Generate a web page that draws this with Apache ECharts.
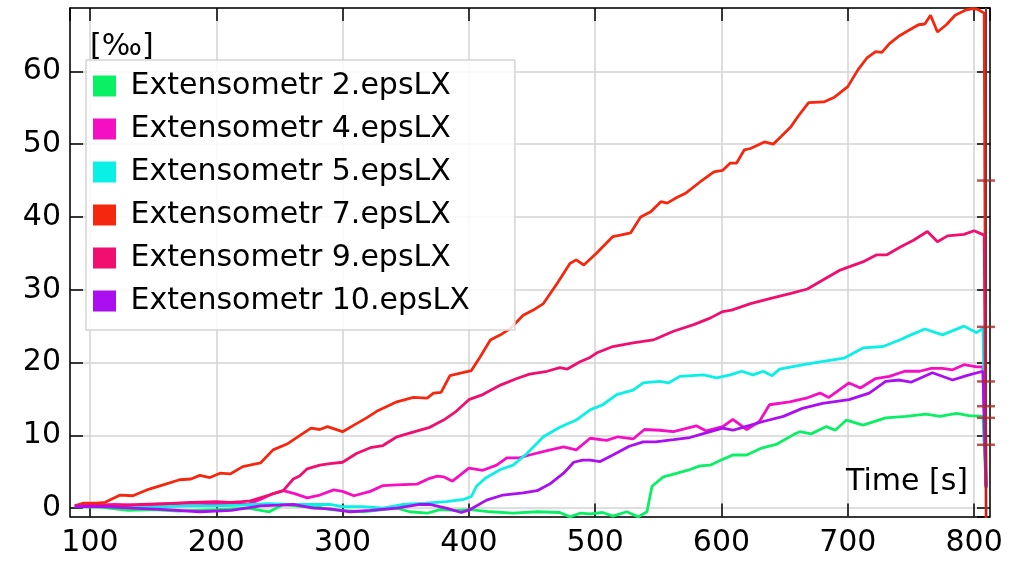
<!DOCTYPE html>
<html>
<head>
<meta charset="utf-8">
<script src="https://cdn.jsdelivr.net/npm/echarts@6/dist/echarts.min.js"></script>
<style>
  html, body { margin: 0; padding: 0; background: #fff; }
  #chart { width: 1026px; height: 561px; }
</style>
</head>
<body>
<div id="chart"></div>
<script>
  // legend names / colours
  var names = ['Extensometr 2.epsLX', 'Extensometr 4.epsLX', 'Extensometr 5.epsLX',
    'Extensometr 7.epsLX', 'Extensometr 9.epsLX', 'Extensometr 10.epsLX'];
  var colors = ['#0af064', '#f50fc3', '#0af0e6', '#f5280f', '#f00f6e', '#aa0fef'];

  // [time s, value ‰]
  var ext2 = [[88,0.2],[110,0.1],[130,-0.3],[150,-0.2],[170,-0.4],[200,-0.2],[225,0.0],[242,-0.5],[253,0.5],[269,0.2],[282,0.1],[290,-0.2],[316,-0.5],[343,0.0],[353,-0.5],[367,-0.7],[377,-0.2],[390,-0.3],[401,-0.2],[417,-0.5],[435,-0.7],[454,-0.5],[472,-0.6],[480,-1.2],[488,-0.7],[496,-0.8],[506,-0.6],[514,-1.1],[525,-0.5],[534,-1.2],[541,-0.5],[545,3.0],[554,4.3],[565,4.8],[575,5.3],[583,5.8],[591,5.9],[601,6.7],[609,7.3],[620,7.3],[631,8.2],[644,8.8],[657,10.1],[662,10.5],[671,10.2],[683,11.2],[690,10.7],[699,12.1],[712,11.4],[730,12.4],[746,12.6],[762,12.9],[773,12.6],[786,13.0],[796,12.7],[807,12.6],[809.5,2.8]];
  var ext4 = [[88,0.3],[100,0.4],[120,0.5],[140,0.4],[160,0.6],[180,0.7],[200,0.6],[215,0.7],[225,0.5],[235,1.2],[245,2.0],[253,2.4],[262,2.0],[272,1.4],[282,1.8],[293,2.5],[300,2.3],[309,1.7],[322,2.3],[332,3.1],[343,3.2],[359,3.3],[369,4.1],[375,4.4],[380,4.3],[387,3.7],[400,5.5],[411,5.2],[422,5.9],[430,6.9],[440,6.9],[448,7.3],[462,7.9],[475,8.4],[485,8.0],[496,9.6],[509,9.3],[518,9.8],[530,9.5],[539,10.8],[551,10.7],[562,10.5],[580,11.3],[588,10.6],[601,11.2],[609,12.2],[620,10.8],[630,11.9],[638,14.2],[654,14.6],[667,15.1],[678,15.8],[685,15.2],[701,17.2],[710,16.5],[722,17.8],[733,18.1],[745,18.8],[757,18.8],[766,19.2],[775,19.2],[783,19.0],[792,19.7],[802,19.4],[807,19.4],[809.5,3.0]];
  var ext5 = [[88,0.4],[100,0.3],[120,0.2],[140,0.1],[160,0.2],[180,0.3],[200,0.3],[220,0.4],[240,0.6],[260,0.5],[280,0.5],[290,0.5],[300,0.2],[316,0.2],[332,0.0],[348,0.5],[366,0.7],[382,0.9],[396,1.2],[402,1.6],[406,3.0],[413,4.1],[425,5.3],[435,5.9],[446,7.5],[459,9.8],[472,11.1],[485,12.1],[496,13.5],[506,14.2],[517,15.6],[530,16.2],[538,17.2],[551,17.4],[558,17.2],[567,18.1],[586,18.3],[596,17.9],[607,18.3],[616,18.8],[625,18.3],[633,18.8],[640,18.2],[646,19.1],[665,19.7],[678,20.1],[697,20.6],[712,22.0],[728,22.2],[741,23.1],[750,23.8],[761,24.6],[775,23.8],[792,25.0],[802,24.1],[807,24.7],[809.5,3.0]];
  var ext7 = [[88,0.3],[95,0.7],[105,0.7],[112,0.8],[124,1.8],[134,1.7],[145,2.5],[158,3.2],[171,3.9],[180,4.0],[187,4.5],[195,4.2],[203,4.8],[211,4.7],[221,5.7],[235,6.2],[245,8.0],[256,8.8],[269,10.3],[275,11.0],[282,10.8],[288,11.2],[300,10.5],[309,11.4],[319,12.4],[327,13.3],[343,14.6],[356,15.2],[367,15.1],[372,15.8],[378,15.9],[385,18.2],[395,18.6],[402,18.9],[409,20.8],[417,23.1],[425,23.8],[433,24.7],[443,26.5],[451,27.2],[459,28.1],[470,30.9],[480,33.6],[485,34.1],[491,33.4],[501,35.0],[514,37.3],[520,37.5],[528,37.8],[536,40.0],[544,40.7],[552,42.1],[557,41.9],[565,42.7],[572,43.3],[583,44.8],[594,46.2],[601,46.4],[607,47.4],[612,47.4],[618,49.2],[623,49.4],[634,50.3],[641,50.0],[647,51.0],[655,52.4],[661,53.9],[669,55.7],[681,55.8],[689,56.4],[700,57.9],[708,60.2],[715,61.8],[722,62.7],[727,62.6],[733,63.8],[741,64.9],[748,65.6],[756,66.4],[761,66.5],[765.5,67.7],[771,65.4],[778,66.4],[785,67.7],[793,68.4],[799,68.6],[803,68.5],[808,68.0],[809.5,-1.5]];
  var ext9 = [[88,0.3],[100,0.4],[120,0.3],[140,0.5],[160,0.6],[180,0.8],[200,0.9],[211,0.8],[220,0.9],[227,1.0],[242,1.8],[253,2.4],[261,4.0],[266,4.4],[272,5.4],[282,5.9],[290,6.1],[300,6.3],[311,7.5],[322,8.3],[332,8.6],[343,9.8],[353,10.3],[369,11.1],[380,12.1],[390,13.3],[400,14.9],[411,15.6],[425,16.9],[438,17.8],[448,18.4],[462,18.8],[472,19.3],[478,19.1],[488,20.1],[496,20.7],[501,21.3],[514,22.2],[530,22.7],[546,23.1],[562,24.3],[578,25.2],[591,26.1],[601,27.0],[608,27.2],[623,28.1],[639,28.8],[655,29.5],[668,30.1],[682,31.5],[694,32.7],[702,33.2],[713,33.9],[723,34.8],[731,34.8],[742,35.9],[752,36.8],[763,38.0],[771,36.6],[779,37.4],[792,37.6],[800,38.1],[808,37.5],[809.5,3.0]];
  var ext10 = [[88,0.2],[110,0.2],[134,0.0],[160,-0.2],[187,-0.5],[212,-0.3],[235,0.3],[250,0.4],[261,0.5],[277,0.0],[290,-0.1],[306,-0.5],[322,-0.3],[343,0.0],[361,0.5],[369,0.5],[382,0.0],[394,-0.6],[401,-0.2],[414,1.1],[427,1.8],[443,2.1],[454,2.4],[464,3.3],[475,4.8],[483,6.3],[490,6.6],[496,6.6],[504,6.4],[514,7.3],[527,8.5],[538,9.1],[548,9.1],[562,9.4],[575,9.7],[585,10.2],[601,11.0],[609,10.7],[617,11.1],[633,11.9],[649,12.6],[664,13.7],[680,14.4],[701,14.9],[717,15.8],[730,17.4],[741,17.6],[750,17.3],[767,18.6],[783,17.6],[794,18.2],[807,18.8],[809.5,2.8]];

  // cursor line and its value marks
  var cursorTime = 809.4;
  var cursorValues = [45.0, 24.9, 17.4, 14.0, 12.4, 8.7];

  var xRange = [84.2, 812.6];
  var yRange = [-1.15, 68.7];

  var font = 'DejaVu Sans';
  var chart = echarts.init(document.getElementById('chart'));

  var seriesData = [ext2, ext4, ext5, ext7, ext9, ext10];
  var series = seriesData.map(function (d, i) {
    return {
      name: names[i],
      type: 'line',
      data: d,
      showSymbol: false,
      lineStyle: { width: 2.8, color: colors[i] },
      itemStyle: { color: colors[i] },
      z: 3
    };
  });
  series.push({
    name: 'cursor',
    type: 'scatter',
    data: cursorValues.map(function (v) { return [cursorTime, v]; }),
    symbol: 'rect',
    symbolSize: [18, 2.5],
    itemStyle: { color: '#a52a2a' },
    z: 4,
    markLine: {
      silent: true,
      symbol: 'none',
      label: { show: false },
      lineStyle: { color: '#a52a2a', width: 2, type: 'solid' },
      data: [{ xAxis: cursorTime }]
    }
  });

  var axisLine = { show: true, onZero: false, lineStyle: { color: '#000', width: 1.5 } };
  var axisTick = { show: true, inside: true, length: 13, lineStyle: { color: '#000', width: 1.5 } };
  var splitLine = { show: true, lineStyle: { color: '#d3d3d3', width: 1.5 } };

  var option = {
    animation: false,
    grid: { left: 70, right: 36, top: 8, bottom: 44.5 },
    xAxis: [{
      type: 'value',
      min: xRange[0],
      max: xRange[1],
      splitNumber: 7,
      axisLine: axisLine,
      axisTick: axisTick,
      axisLabel: { showMinLabel: false, showMaxLabel: false, color: '#000', fontSize: 30, fontFamily: font, margin: 12 },
      splitLine: splitLine
    }, {
      type: 'value',
      position: 'top',
      min: xRange[0],
      max: xRange[1],
      splitNumber: 7,
      axisLine: axisLine,
      axisTick: axisTick,
      axisLabel: { show: false },
      splitLine: { show: false }
    }],
    yAxis: [{
      type: 'value',
      min: yRange[0],
      max: yRange[1],
      splitNumber: 7,
      axisLine: axisLine,
      axisTick: axisTick,
      axisLabel: { showMinLabel: false, showMaxLabel: false, color: '#000', fontSize: 30, fontFamily: font, margin: 9 },
      splitLine: splitLine
    }, {
      type: 'value',
      position: 'right',
      min: yRange[0],
      max: yRange[1],
      splitNumber: 7,
      axisLine: axisLine,
      axisTick: axisTick,
      axisLabel: { show: false },
      splitLine: { show: false }
    }],
    legend: {
      orient: 'vertical',
      left: 86,
      top: 60,
      data: names,
      icon: 'rect',
      itemWidth: 23,
      itemHeight: 21,
      itemGap: 13,
      padding: [11, 45, 14, 7],
      backgroundColor: 'rgba(255,255,255,0.85)',
      borderColor: '#d5d5d5',
      borderWidth: 1.5,
      formatter: function (n) { return ' ' + n; },
      textStyle: { color: '#000', fontSize: 30, fontFamily: font, lineHeight: 30 },
      z: 10
    },
    graphic: [{
      type: 'text',
      style: { text: '[‰]', x: 90, y: 47, font: '30px "DejaVu Sans"', fill: '#000', verticalAlign: 'middle' },
      z: 20
    }, {
      type: 'text',
      style: { text: 'Time [s]', x: 968, y: 482, font: '30px "DejaVu Sans"', fill: '#000', align: 'right', verticalAlign: 'middle' },
      z: 20
    }],
    series: series
  };
  chart.setOption(option);
</script>
</body>
</html>
